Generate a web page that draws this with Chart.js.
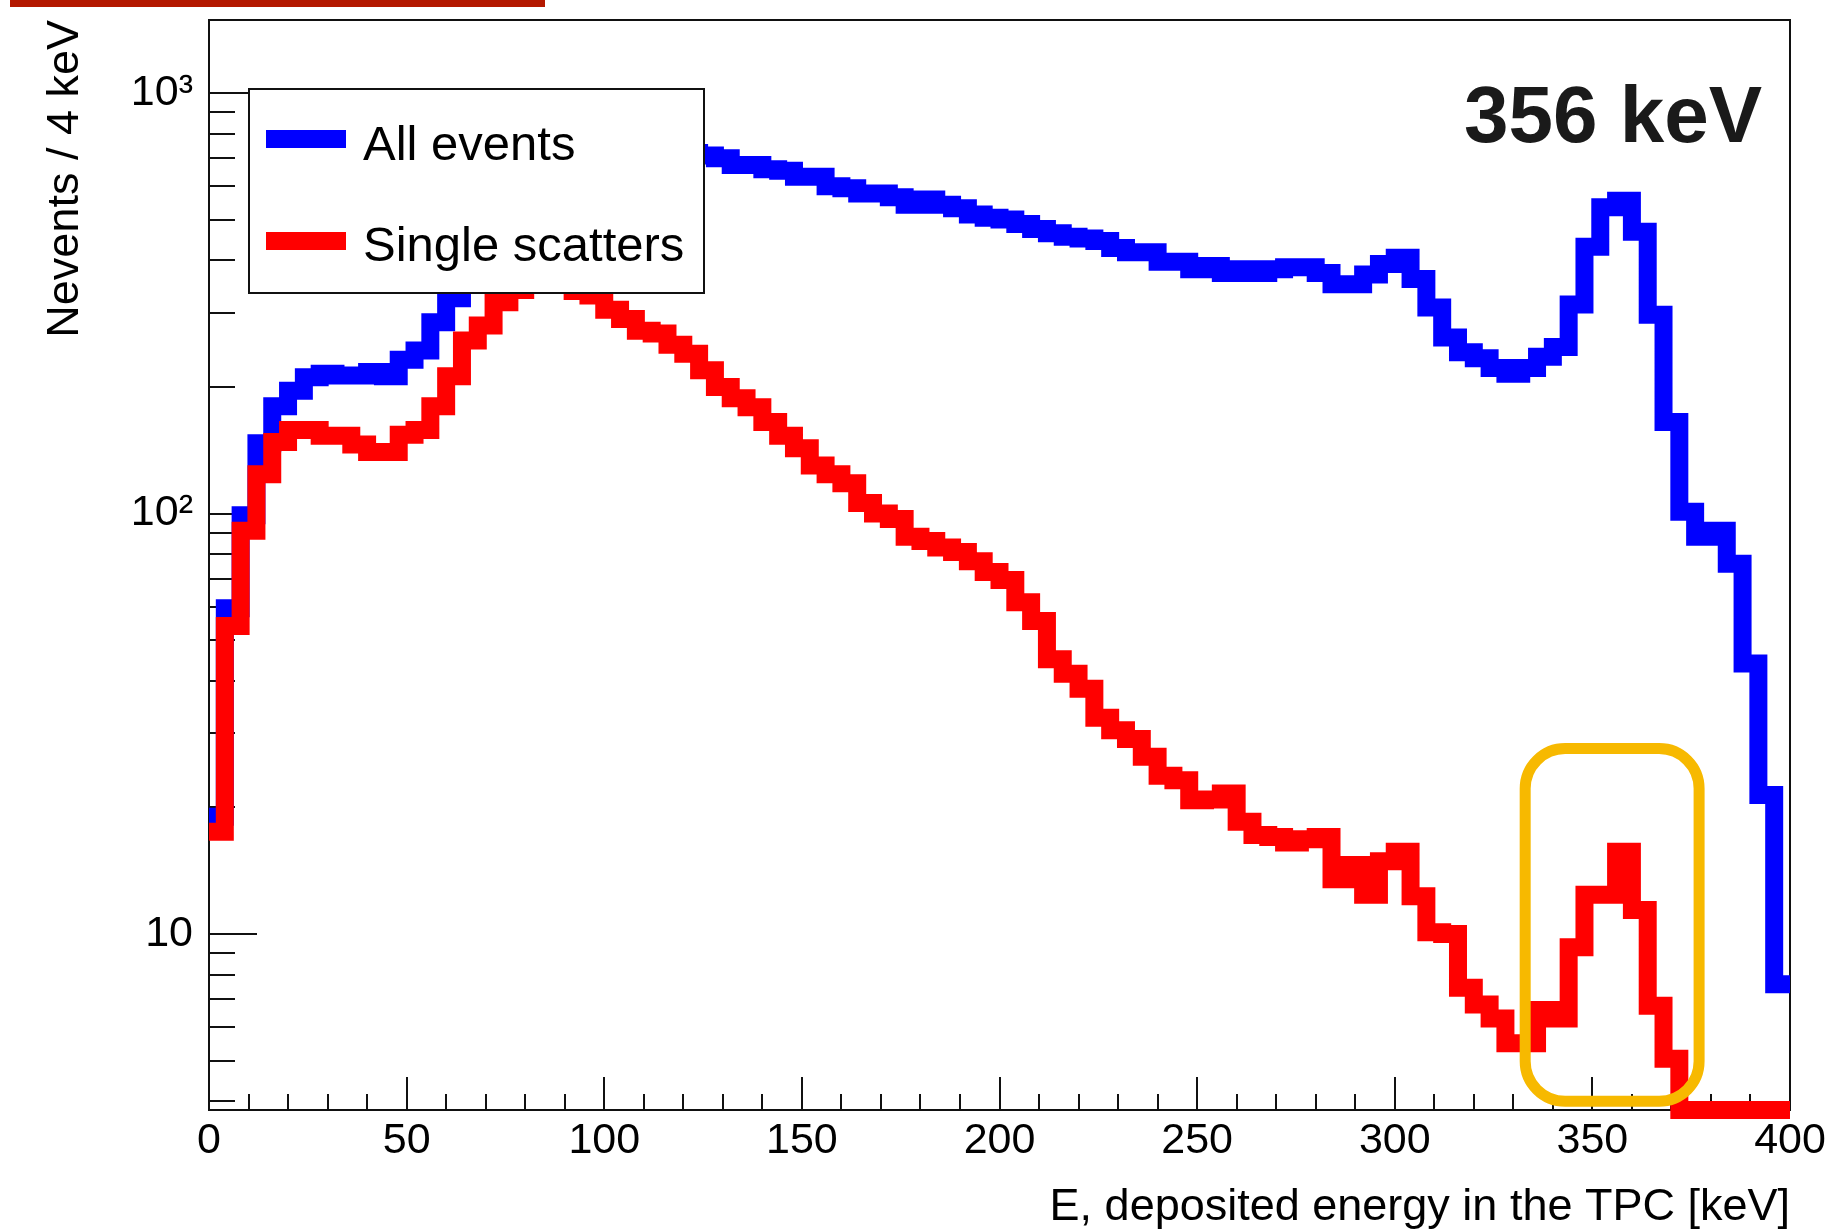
<!DOCTYPE html>
<html lang="en">
<head>
<meta charset="UTF-8">
<title>Deposited energy in the TPC</title>
<script src="https://cdn.jsdelivr.net/npm/chart.js"></script>
<style>
  html, body { margin: 0; padding: 0; background: #fff; }
  #wrap { position: relative; width: 1845px; height: 1230px; }
</style>
</head>
<body>
<div id="wrap"><canvas id="spectrum"></canvas></div>
<script>
// 100 bins of 4 keV between 0 and 400 keV
const BIN_WIDTH = 4;
const X_MIN = 0;
const X_MAX = 400;
const Y_MIN = 3.815;
const Y_MAX = 1491.6;

// Nevents / 4 keV (bin 0 = 0-4 keV)
const allEvents = [
  19, 59.5, 99, 147, 180, 196, 211, 215, 213, 213,
  217, 212, 232, 244, 285, 325, 375, 445, 525, 600,
  670, 730, 775, 805, 815, 805, 785, 765, 748, 732,
  720, 710, 700, 674, 674, 659, 653, 632, 632, 600,
  594, 577, 577, 565, 542, 558, 542, 532, 514, 505,
  500, 488, 475, 464, 455, 451, 445, 428, 418, 418,
  397, 397, 381, 388, 373, 381, 373, 381, 385, 385,
  373, 351, 351, 370, 392, 406, 361, 309, 262, 242,
  234, 222, 215, 222, 236, 249, 314, 431, 535, 554,
  468, 297, 165, 101, 88, 91, 76, 44, 21.4, 7.6
];

const singleScatters = [
  17.5, 54, 91, 124, 148, 158, 158, 153, 153, 146,
  140, 140, 154, 158, 180, 212, 258, 280, 318, 340,
  360, 370, 360, 338, 330, 305, 290, 272, 268, 252,
  240, 219, 200, 188, 179, 165, 153, 143, 130, 124,
  118, 106, 100, 97, 88, 86, 83, 81, 77, 72.6,
  69.5, 61.5, 55.5, 45, 41.6, 38.3, 32.7, 30.5, 29.1, 26.4,
  23.8, 23.2, 20.8, 20.9, 21.6, 18.5, 17.2, 17.0, 16.5, 16.8,
  17.0, 13.5, 14.6, 12.4, 14.9, 15.7, 12.3, 10.1, 10.0, 7.45,
  6.8, 6.3, 5.5, 5.5, 6.6, 6.3, 9.3, 12.4, 12.4, 15.7,
  11.4, 6.75, 5.05, 0, 0, 0, 0, 0, 0, 0
];

const seriesLabels = ['All events', 'Single scatters'];
const seriesColors = ['#0000ff', '#ff0000'];

const xMajorTicks = [0, 50, 100, 150, 200, 250, 300, 350, 400];
const yMajorTicks = [10, 100, 1000];
const yMajorLabels = ['10', '10\u00b2', '10\u00b3'];
const yMinorTicks = [4, 5, 6, 7, 8, 9, 20, 30, 40, 50, 60, 70, 80, 90,
                     200, 300, 400, 500, 600, 700, 800, 900];

const peakLabel = '356 keV';
const peakBox = { xMin: 333, xMax: 377, yMin: 4.0, yMax: 27.6 };

const FONT = "'Liberation Sans', Arial, Helvetica, sans-serif";

// histogram outline: each bin becomes a flat segment from its low to its high edge,
// empty bins sit on the bottom of the frame like in ROOT
function histOutline(values) {
  const pts = [];
  values.forEach((v, i) => {
    const y = v > 0 ? v : Y_MIN;
    pts.push({ x: X_MIN + i * BIN_WIDTH, y: y });
    pts.push({ x: X_MIN + (i + 1) * BIN_WIDTH, y: y });
  });
  return pts;
}

// frame and inward tick marks, drawn under the histograms
const rootFrame = {
  id: 'rootFrame',
  beforeDatasetsDraw(chart) {
    const { ctx, chartArea: a, scales: { x, y } } = chart;
    ctx.save();
    ctx.strokeStyle = '#111';
    ctx.lineWidth = 2;
    ctx.strokeRect(a.left, a.top, a.right - a.left, a.bottom - a.top);
    ctx.beginPath();
    x.ticks.forEach(t => {
      const px = Math.round(x.getPixelForValue(t.value));
      const len = xMajorTicks.includes(t.value) ? 33 : 16;
      ctx.moveTo(px, a.bottom);
      ctx.lineTo(px, a.bottom - len);
    });
    y.ticks.forEach(t => {
      const py = Math.round(y.getPixelForValue(t.value));
      const len = yMajorTicks.includes(t.value) ? 48 : 26;
      ctx.moveTo(a.left, py);
      ctx.lineTo(a.left + len, py);
    });
    ctx.stroke();
    ctx.restore();
  },
  afterDatasetsDraw(chart) {
    const { ctx, scales: { x, y } } = chart;
    ctx.save();

    // highlight around the 356 keV single-scatter peak
    const bx0 = x.getPixelForValue(peakBox.xMin);
    const bx1 = x.getPixelForValue(peakBox.xMax);
    const by0 = y.getPixelForValue(peakBox.yMax);
    const by1 = y.getPixelForValue(peakBox.yMin);
    ctx.strokeStyle = '#f7b900';
    ctx.lineWidth = 11;
    ctx.beginPath();
    ctx.roundRect(bx0, by0, bx1 - bx0, by1 - by0, 40);
    ctx.stroke();

    // legend box
    ctx.fillStyle = '#fff';
    ctx.fillRect(249, 89, 455, 204);
    ctx.strokeStyle = '#111';
    ctx.lineWidth = 2;
    ctx.strokeRect(249, 89, 455, 204);
    const rows = [{ line: 139, text: 146 }, { line: 241, text: 247 }];
    chart.data.datasets.forEach((ds, i) => {
      ctx.strokeStyle = ds.borderColor;
      ctx.lineWidth = 18;
      ctx.beginPath();
      ctx.moveTo(266, rows[i].line);
      ctx.lineTo(346, rows[i].line);
      ctx.stroke();
      ctx.fillStyle = '#000';
      ctx.font = '49px ' + FONT;
      ctx.textBaseline = 'middle';
      ctx.textAlign = 'left';
      ctx.fillText(ds.label, 363, rows[i].text);
    });

    // energy label
    ctx.fillStyle = '#1a1a1a';
    ctx.font = 'bold 80px ' + FONT;
    ctx.textAlign = 'right';
    ctx.textBaseline = 'alphabetic';
    ctx.fillText(peakLabel, 1762, 142);
    ctx.restore();
  },
  afterDraw(chart) {
    // slide header bar
    const { ctx } = chart;
    ctx.save();
    ctx.fillStyle = '#b41800';
    ctx.fillRect(10, 0, 535, 7);
    ctx.restore();
  }
};

Chart.defaults.font.family = FONT;
Chart.defaults.color = '#000';

new Chart(document.getElementById('spectrum'), {
  type: 'line',
  data: {
    datasets: [
      {
        label: seriesLabels[0],
        data: histOutline(allEvents),
        borderColor: seriesColors[0],
        borderWidth: 18,
        pointRadius: 0,
        fill: false,
        tension: 0,
        clip: 9,
        order: 1
      },
      {
        label: seriesLabels[1],
        data: histOutline(singleScatters),
        borderColor: seriesColors[1],
        borderWidth: 18,
        pointRadius: 0,
        fill: false,
        tension: 0,
        clip: 9,
        order: 0
      }
    ]
  },
  options: {
    responsive: true,
    maintainAspectRatio: false,
    devicePixelRatio: 1,
    animation: false,
    events: [],
    layout: { padding: { top: 20, right: 55, bottom: 0, left: 0 } },
    plugins: {
      legend: { display: false },
      tooltip: { enabled: false }
    },
    scales: {
      x: {
        type: 'linear',
        min: X_MIN,
        max: X_MAX,
        grid: { display: false, drawTicks: false },
        border: { display: false },
        ticks: {
          stepSize: 10,
          autoSkip: false,
          maxRotation: 0,
          padding: 10,
          font: { size: 43, lineHeight: 1 },
          callback: v => xMajorTicks.includes(v) ? String(v) : ''
        },
        title: {
          display: true,
          text: 'E, deposited energy in the TPC [keV]',
          align: 'end',
          font: { size: 45, lineHeight: 1 },
          padding: { top: 0, bottom: 0 }
        },
        afterFit(scale) {
          scale.height = 120;
          scale.paddingLeft = 0;
          scale.paddingRight = 0;
        }
      },
      y: {
        type: 'logarithmic',
        min: Y_MIN,
        max: Y_MAX,
        grid: { display: false, drawTicks: false },
        border: { display: false },
        afterBuildTicks(scale) {
          scale.ticks = yMinorTicks.concat(yMajorTicks)
            .sort((a, b) => a - b)
            .map(v => ({ value: v }));
        },
        ticks: {
          autoSkip: false,
          padding: 16,
          font: { size: 43, lineHeight: 1 },
          callback: v => {
            const i = yMajorTicks.indexOf(v);
            return i >= 0 ? yMajorLabels[i] : '';
          }
        },
        title: {
          display: true,
          text: 'Nevents / 4 keV',
          align: 'end',
          font: { size: 45, lineHeight: 1 },
          padding: { top: 43, bottom: 0 }
        },
        afterFit(scale) {
          scale.width = 209;
          scale.paddingTop = 0;
          scale.paddingBottom = 0;
        }
      }
    }
  },
  plugins: [rootFrame]
});
</script>
</body>
</html>
